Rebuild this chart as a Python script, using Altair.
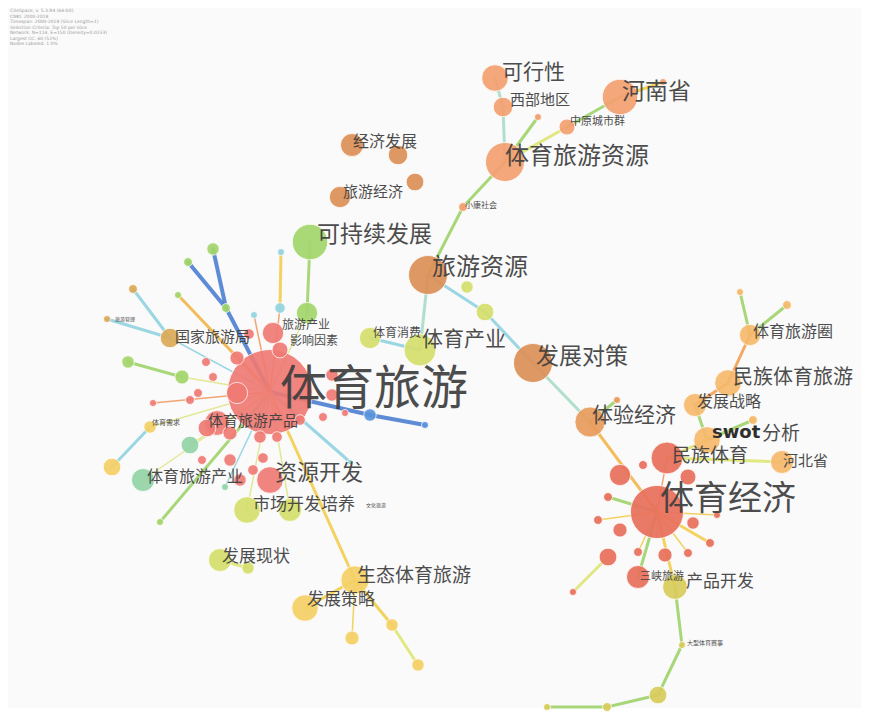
import math
import altair as alt
import pandas as pd

# ---------------- data ----------------
# nodes: (id, x, y, radius, group)
nodes = [
    # top cluster
    ("kxx", 495, 78, 15, "salmon"), ("xbdq", 503, 107, 11, "salmon"), ("t1", 538, 117, 4, "salmon"),
    ("zy", 567, 127, 9, "salmon"), ("hn", 620, 97, 20, "salmon"), ("t2", 663, 82, 4, "salmon"),
    ("tylyzy", 505, 162, 22, "salmon"), ("xk", 463, 207, 5, "salmon"),
    # brown
    ("jj1", 352, 145, 13, "brown"), ("jj2", 398, 155, 11, "brown"), ("ly1", 340, 197, 12, "brown"),
    ("ly2", 415, 182, 10, "brown"), ("lyzy", 428, 275, 22, "brown"), ("fzdc", 533, 363, 22, "brown"),
    ("tyjyjj", 590, 422, 17, "amber"), ("s617", 617, 400, 4, "amber"),
    # green
    ("kcx", 310, 242, 20, "green"), ("g313", 307, 313, 12, "green"), ("g213", 213, 249, 7, "green"),
    ("g188", 188, 262, 5, "green"), ("g226", 226, 308, 5, "green"), ("g178", 178, 295, 4, "green"),
    ("g128", 128, 362, 7, "green"), ("g182", 182, 377, 8, "green"), ("g160", 160, 522, 4, "green"),
    # cyan / gold
    ("c281", 281, 252, 4, "cyan"), ("c280", 280, 308, 6, "cyan"), ("c254", 254, 315, 4, "cyan"),
    ("c350", 350, 462, 3, "cyan"),
    ("gjlyj", 170, 338, 11, "gold"), ("o133", 133, 289, 5, "gold"), ("o107", 107, 319, 4, "gold"),
    # yellow-green
    ("yg467", 467, 287, 7, "yg"), ("yg485", 485, 312, 10, "yg"), ("tycy", 420, 350, 18, "yg"),
    ("tyxf", 370, 338, 12, "yg"), ("yg247", 247, 510, 15, "yg"), ("yg290", 290, 510, 13, "yg"),
    ("fzxz", 220, 560, 13, "yg"), ("yg248", 248, 568, 7, "yg"),
    # yellow
    ("y112", 112, 467, 10, "yellow"), ("y150", 150, 427, 7, "yellow"), ("stty", 355, 580, 16, "yellow"),
    ("fzcl", 305, 608, 15, "yellow"), ("y352", 352, 638, 8, "yellow"), ("y392", 392, 625, 7, "yellow"),
    ("y418", 418, 665, 7, "yellow"),
    # teal
    ("tg190", 190, 445, 10, "teal"), ("tycylycy", 143, 480, 13, "teal"), ("tg225", 225, 487, 4, "teal"),
    # blue
    ("b370", 370, 415, 7, "blue"), ("b425", 425, 425, 4, "blue"),
    # red main cluster
    ("tyly", 270, 392, 48, "red"),
    ("r1", 206, 362, 5, "red"), ("r2", 213, 377, 5, "red"), ("r3", 237, 358, 8, "red"),
    ("r4", 198, 393, 5, "red"), ("r153", 153, 403, 4, "red"), ("r6", 273, 333, 12, "red"),
    ("r7", 280, 350, 9, "red"), ("r8", 249, 334, 6, "red"), ("r9", 332, 375, 7, "red"),
    ("r10", 332, 395, 7, "red"), ("r11", 323, 417, 5, "red"), ("r12", 345, 413, 4, "red"),
    ("r13", 190, 400, 5, "red"), ("r14", 207, 428, 10, "red"), ("r15", 217, 423, 14, "red"),
    ("r16", 230, 433, 8, "red"), ("r17", 260, 437, 7, "red"), ("r18", 277, 437, 6, "red"),
    ("r19", 202, 460, 5, "red"), ("r20", 230, 460, 7, "red"), ("r21", 240, 480, 7, "red"),
    ("r22", 263, 458, 6, "red"), ("zykf", 270, 480, 15, "red"), ("r24", 253, 470, 6, "red"),
    ("r25", 237, 393, 12, "red"), ("r26", 300, 420, 6, "red"),
    # right cluster
    ("tylyq", 750, 335, 12, "lorange"), ("o740", 740, 292, 4, "lorange"), ("o787", 787, 305, 5, "lorange"),
    ("mztyly", 728, 383, 15, "lorange"), ("fzzl", 695, 405, 13, "lorange"), ("swot", 707, 440, 15, "lorange"),
    ("o753", 753, 420, 5, "lorange"), ("hbs", 782, 462, 13, "lorange"),
    ("tyjj", 657, 512, 30, "red2"), ("mzty", 667, 458, 18, "red2"),
    ("q1", 688, 477, 9, "red2"), ("q2", 643, 465, 5, "red2"), ("q3", 620, 475, 12, "red2"),
    ("q4", 608, 497, 5, "red2"), ("q5", 598, 520, 5, "red2"), ("q6", 620, 530, 8, "red2"),
    ("q7", 638, 552, 5, "red2"), ("q8", 665, 555, 8, "red2"), ("q9", 688, 553, 5, "red2"),
    ("q10", 693, 523, 7, "red2"), ("q11", 710, 543, 5, "red2"), ("q12", 717, 515, 4, "red2"),
    ("q13", 608, 557, 10, "red2"), ("sxly", 638, 577, 13, "red2"), ("q15", 573, 592, 4, "red2"),
    ("ol675", 675, 587, 14, "olive"), ("ol682", 682, 645, 4, "olive"), ("ol658", 658, 695, 10, "olive"),
    ("ol607", 607, 707, 5, "olive"), ("ol547", 547, 707, 4, "olive"),
]

# edges: (from, to, kind)
edges = [
    ("kxx", "xbdq", "mint"), ("xbdq", "tylyzy", "mint"), ("tylyzy", "t1", "green"),
    ("tylyzy", "zy", "lyellow"), ("zy", "hn", "green"), ("hn", "t2", "yellow"),
    ("tylyzy", "xk", "green"), ("xk", "lyzy", "green"), ("lyzy", "tycy", "mint"),
    ("lyzy", "yg485", "cyan"), ("yg485", "fzdc", "cyan"), ("tycy", "tyxf", "cyan"),
    ("fzdc", "tyjyjj", "mint"), ("tyjyjj", "s617", "green"), ("tyjyjj", "tyjj", "amber"),
    ("kcx", "g313", "green"), ("g313", "tyly", "thin_lyellow"), ("c281", "c280", "yellow"),
    ("c280", "tyly", "thin_orange"), ("g213", "g226", "blue"), ("g188", "g226", "blue"),
    ("g226", "tyly", "blue"), ("g178", "tyly", "amber"), ("o133", "gjlyj", "cyan"),
    ("o107", "gjlyj", "cyan"), ("gjlyj", "tyly", "thin_cyan"), ("g128", "g182", "green"),
    ("g182", "tyly", "thin_lyellow"), ("r153", "tyly", "thin_orange"), ("y112", "y150", "cyan"),
    ("y150", "tyly", "thin_lyellow"), ("g160", "tyly", "green"), ("tyly", "b370", "blue"),
    ("b370", "b425", "blue"), ("tyly", "c350", "cyan"), ("tyly", "stty", "yellow"),
    ("stty", "fzcl", "yellow"), ("stty", "y352", "thin_yellow"), ("stty", "y392", "yellow"),
    ("y392", "y418", "lyellow"), ("fzxz", "yg248", "lyellow"), ("tyly", "yg247", "thin_lyellow"),
    ("tyly", "yg290", "thin_lyellow"), ("tyly", "tg225", "thin_cyan"), ("tyly", "tycylycy", "thin_lyellow"),
    ("tyly", "tg190", "thin_lyellow"), ("tyly", "c254", "thin_orange"),
    ("tylyq", "o740", "green"), ("tylyq", "o787", "green"), ("tylyq", "mztyly", "orange"),
    ("mztyly", "fzzl", "orange"), ("fzzl", "swot", "green"), ("swot", "o753", "green"),
    ("swot", "mzty", "lyellow"), ("mzty", "hbs", "lyellow"), ("mzty", "tyjj", "thin_orange"),
    ("tyjj", "q4", "green"), ("tyjj", "q5", "thin_yellow"), ("tyjj", "q7", "thin_yellow"),
    ("tyjj", "q9", "thin_yellow"), ("tyjj", "q11", "yellow"), ("tyjj", "q12", "thin_yellow"),
    ("tyjj", "sxly", "green"), ("q13", "q15", "lyellow"), ("tyjj", "ol675", "yellow"),
    ("ol675", "ol682", "green"), ("ol682", "ol658", "green"), ("ol658", "ol607", "green"),
    ("ol607", "ol547", "green"),
]

# labels: (text, left x, centre y, font size)
labels = [
    ("可行性", 502, 73, 21), ("西部地区", 510, 100, 15), ("中原城市群", 570, 122, 11),
    ("河南省", 622, 92, 23), ("体育旅游资源", 505, 157, 24), ("小康社会", 465, 206, 8),
    ("经济发展", 353, 142, 16), ("旅游经济", 343, 192, 15), ("可持续发展", 317, 235, 23),
    ("旅游资源", 432, 268, 24), ("体育消费", 373, 333, 12), ("体育产业", 422, 340, 21),
    ("发展对策", 536, 357, 23), ("旅游产业", 282, 325, 12), ("影响因素", 290, 341, 12),
    ("体育旅游", 280, 390, 47), ("体育旅游产品", 208, 421, 15), ("资源开发", 275, 473, 22),
    ("体育旅游产业", 147, 477, 16), ("市场开发培养", 253, 505, 17), ("文化旅游", 366, 505, 5),
    ("体育需求", 152, 423, 7), ("国家旅游局", 175, 337, 15), ("旅游管理", 115, 319, 5),
    ("发展现状", 222, 557, 17), ("生态体育旅游", 357, 576, 19), ("发展策略", 307, 600, 17),
    ("体育旅游圈", 753, 332, 16), ("民族体育旅游", 733, 378, 20), ("发展战略", 697, 402, 16),
    ("体验经济", 592, 416, 21), ("分析", 762, 434, 19), ("民族体育", 672, 456, 19),
    ("河北省", 783, 461, 15), ("体育经济", 660, 500, 34), ("三峡旅游", 640, 577, 11),
    ("产品开发", 686, 582, 17), ("大型体育赛事", 687, 643, 6),
]
latin_labels = [("swot", 712, 433, 18)]

legend_lines = [
    "CiteSpace, v. 5.3.R4 (64-bit)",
    "CNKI: 2000-2018",
    "Timespan: 2000-2018 (Slice Length=1)",
    "Selection Criteria: Top 50 per slice",
    "Network: N=114, E=150 (Density=0.0233)",
    "Largest CC: 60 (52%)",
    "Nodes Labeled: 1.0%",
]

groups = ["red", "red2", "salmon", "brown", "amber", "lorange", "green", "yg", "yellow",
          "olive", "teal", "cyan", "gold", "blue"]
group_colors = ["#f07a74", "#e9705c", "#f4a070", "#dc9057", "#e89c5c", "#f6b96c", "#a3d66b",
                "#d6df6c", "#f5d066", "#d9cc5c", "#93d4a6", "#94d6e3", "#dcaa58", "#5b95db"]

kinds = ["green", "mint", "yellow", "lyellow", "cyan", "blue", "orange", "amber",
         "thin_yellow", "thin_orange", "thin_cyan", "thin_lyellow"]
kind_colors = ["#9ed36a", "#a8dcc6", "#f3cd4e", "#dfe573", "#8fd3e0", "#4c7ed0", "#f2a052",
               "#f2b54a", "#f3cd4e", "#f29a62", "#8fd3e0", "#e0e68a"]

# ---------------- frames ----------------
ndf = pd.DataFrame(nodes, columns=["id", "x", "y", "r", "group"])
ndf["area"] = math.pi * ndf["r"] ** 2
ndf = ndf.sort_values("r", ascending=False).reset_index(drop=True)
pos = {row.id: (row.x, row.y) for row in ndf.itertuples()}

erows = []
for a, b, k in edges:
    erows.append({"x": pos[a][0], "y": pos[a][1], "x2": pos[b][0], "y2": pos[b][1],
                  "kind": k, "w": 1.5 if k.startswith("thin") else (4 if k == "blue" else 3)})
edf = pd.DataFrame(erows)

ldf = pd.DataFrame(labels, columns=["text", "x", "y", "fs"])
latdf = pd.DataFrame(latin_labels, columns=["text", "x", "y", "fs"])
legdf = pd.DataFrame({"text": legend_lines, "x": [10] * len(legend_lines),
                      "y": [11 + 5.5 * i for i in range(len(legend_lines))]})

xs = alt.Scale(domain=[8, 861], nice=False, zero=False)
ys = alt.Scale(domain=[8, 708], nice=False, zero=False, reverse=True)

X = lambda f="x": alt.X(f + ":Q", scale=xs, axis=None)
Y = lambda f="y": alt.Y(f + ":Q", scale=ys, axis=None)

edge_layer = alt.Chart(edf).mark_rule(strokeCap="round", opacity=0.9).encode(
    x=X(), y=Y(), x2="x2:Q", y2="y2:Q",
    stroke=alt.Stroke("kind:N", scale=alt.Scale(domain=kinds, range=kind_colors), legend=None),
    strokeWidth=alt.StrokeWidth("w:Q", scale=None),
)

node_layer = alt.Chart(ndf).mark_circle(opacity=0.92, stroke="#ffffff", strokeWidth=0.8).encode(
    x=X(), y=Y(),
    size=alt.Size("area:Q", scale=None),
    fill=alt.Fill("group:N", scale=alt.Scale(domain=groups, range=group_colors), legend=None),
    order=alt.Order("r:Q", sort="descending"),
)

label_layer = alt.Chart(ldf).mark_text(
    align="left", baseline="middle", font="Noto Sans CJK SC", color="#3e3e3e", opacity=0.92
).encode(x=X(), y=Y(), text="text:N", size=alt.Size("fs:Q", scale=None))

latin_layer = alt.Chart(latdf).mark_text(
    align="left", baseline="middle", font="DejaVu Sans", fontWeight="bold", color="#2e2e2e"
).encode(x=X(), y=Y(), text="text:N", size=alt.Size("fs:Q", scale=None))

legend_layer = alt.Chart(legdf).mark_text(
    align="left", baseline="middle", font="DejaVu Sans", fontSize=4.5, color="#9a9a9a"
).encode(x=X(), y=Y(), text="text:N")

chart = alt.layer(edge_layer, node_layer, label_layer, latin_layer, legend_layer).properties(
    width=853, height=700, padding=0, background="#ffffff"
).configure_view(fill="#fafafa", stroke=None)

chart.save("out.html", embed_options={"renderer": "svg", "actions": False})
